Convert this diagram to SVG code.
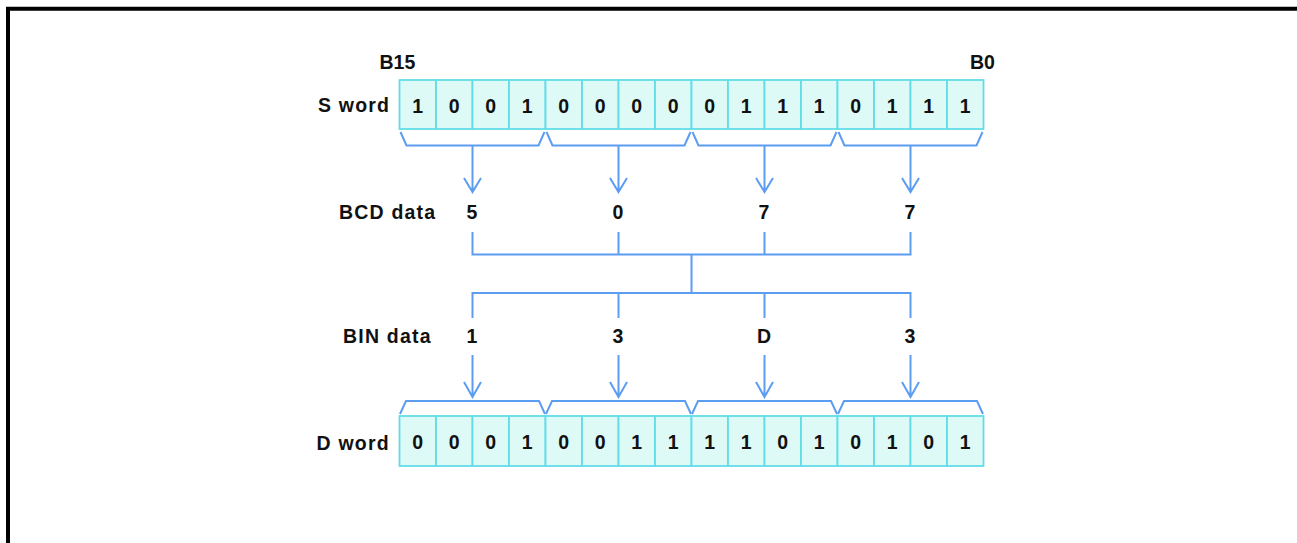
<svg xmlns="http://www.w3.org/2000/svg" width="1297" height="543" viewBox="0 0 1297 543">
<style>
.cell{fill:#defaf7;stroke:#62dde8;stroke-width:1.8}
.t{font-family:"Liberation Sans",Arial,sans-serif;font-weight:bold;font-size:19.5px;fill:#111}
.lab{letter-spacing:1.2px}
.d{text-anchor:middle}
.ln{fill:none;stroke:#5c9df2;stroke-width:2}
</style>
<rect width="1297" height="543" fill="#fff"/>
<path d="M8,543 L8,8.7 L1297,8.7" fill="none" stroke="#000" stroke-width="4"/>
<g id="labels">
<text class="t" x="379.5" y="69">B15</text>
<text class="t" x="970" y="69">B0</text>
<text class="t lab" x="318" y="112">S word</text>
<text class="t lab" x="339" y="218.5">BCD data</text>
<text class="t lab" x="343" y="343">BIN data</text>
<text class="t lab" x="316.5" y="449.5">D word</text>
</g>
<g id="s-word">
<rect class="cell" x="399.5" y="80" width="36.5" height="49"/>
<rect class="cell" x="436" y="80" width="36.5" height="49"/>
<rect class="cell" x="472.5" y="80" width="36.5" height="49"/>
<rect class="cell" x="509" y="80" width="36.5" height="49"/>
<rect class="cell" x="545.5" y="80" width="36.5" height="49"/>
<rect class="cell" x="582" y="80" width="36.5" height="49"/>
<rect class="cell" x="618.5" y="80" width="36.5" height="49"/>
<rect class="cell" x="655" y="80" width="36.5" height="49"/>
<rect class="cell" x="691.5" y="80" width="36.5" height="49"/>
<rect class="cell" x="728" y="80" width="36.5" height="49"/>
<rect class="cell" x="764.5" y="80" width="36.5" height="49"/>
<rect class="cell" x="801" y="80" width="36.5" height="49"/>
<rect class="cell" x="837.5" y="80" width="36.5" height="49"/>
<rect class="cell" x="874" y="80" width="36.5" height="49"/>
<rect class="cell" x="910.5" y="80" width="36.5" height="49"/>
<rect class="cell" x="947" y="80" width="36.5" height="49"/>
<text class="t d" x="417.75" y="112.5">1</text>
<text class="t d" x="454.25" y="112.5">0</text>
<text class="t d" x="490.75" y="112.5">0</text>
<text class="t d" x="527.25" y="112.5">1</text>
<text class="t d" x="563.75" y="112.5">0</text>
<text class="t d" x="600.25" y="112.5">0</text>
<text class="t d" x="636.75" y="112.5">0</text>
<text class="t d" x="673.25" y="112.5">0</text>
<text class="t d" x="709.75" y="112.5">0</text>
<text class="t d" x="746.25" y="112.5">1</text>
<text class="t d" x="782.75" y="112.5">1</text>
<text class="t d" x="819.25" y="112.5">1</text>
<text class="t d" x="855.75" y="112.5">0</text>
<text class="t d" x="892.25" y="112.5">1</text>
<text class="t d" x="928.75" y="112.5">1</text>
<text class="t d" x="965.25" y="112.5">1</text>
</g>
<g id="bcd-data">
<text class="t d" x="472" y="218.5">5</text>
<text class="t d" x="618" y="218.5">0</text>
<text class="t d" x="764" y="218.5">7</text>
<text class="t d" x="910" y="218.5">7</text>
</g>
<g id="bin-data">
<text class="t d" x="472" y="343">1</text>
<text class="t d" x="618" y="343">3</text>
<text class="t d" x="764" y="343">D</text>
<text class="t d" x="910" y="343">3</text>
</g>
<g id="d-word">
<rect class="cell" x="399.5" y="416" width="36.5" height="50"/>
<rect class="cell" x="436" y="416" width="36.5" height="50"/>
<rect class="cell" x="472.5" y="416" width="36.5" height="50"/>
<rect class="cell" x="509" y="416" width="36.5" height="50"/>
<rect class="cell" x="545.5" y="416" width="36.5" height="50"/>
<rect class="cell" x="582" y="416" width="36.5" height="50"/>
<rect class="cell" x="618.5" y="416" width="36.5" height="50"/>
<rect class="cell" x="655" y="416" width="36.5" height="50"/>
<rect class="cell" x="691.5" y="416" width="36.5" height="50"/>
<rect class="cell" x="728" y="416" width="36.5" height="50"/>
<rect class="cell" x="764.5" y="416" width="36.5" height="50"/>
<rect class="cell" x="801" y="416" width="36.5" height="50"/>
<rect class="cell" x="837.5" y="416" width="36.5" height="50"/>
<rect class="cell" x="874" y="416" width="36.5" height="50"/>
<rect class="cell" x="910.5" y="416" width="36.5" height="50"/>
<rect class="cell" x="947" y="416" width="36.5" height="50"/>
<text class="t d" x="417.75" y="449">0</text>
<text class="t d" x="454.25" y="449">0</text>
<text class="t d" x="490.75" y="449">0</text>
<text class="t d" x="527.25" y="449">1</text>
<text class="t d" x="563.75" y="449">0</text>
<text class="t d" x="600.25" y="449">0</text>
<text class="t d" x="636.75" y="449">1</text>
<text class="t d" x="673.25" y="449">1</text>
<text class="t d" x="709.75" y="449">1</text>
<text class="t d" x="746.25" y="449">1</text>
<text class="t d" x="782.75" y="449">0</text>
<text class="t d" x="819.25" y="449">1</text>
<text class="t d" x="855.75" y="449">0</text>
<text class="t d" x="892.25" y="449">1</text>
<text class="t d" x="928.75" y="449">0</text>
<text class="t d" x="965.25" y="449">1</text>
</g>
<g id="connectors" class="ln">
<path d="M400.5,132 L406.5,145.5 L538.5,145.5 L544.5,132"/>
<path d="M546.5,132 L552.5,145.5 L684.5,145.5 L690.5,132"/>
<path d="M692.5,132 L698.5,145.5 L830.5,145.5 L836.5,132"/>
<path d="M838.5,132 L844.5,145.5 L976.5,145.5 L982.5,132"/>
<path d="M472.5,145.5 V192 M464,178 L472.5,192 L481,178"/>
<path d="M618.5,145.5 V192 M610,178 L618.5,192 L627,178"/>
<path d="M764.5,145.5 V192 M756,178 L764.5,192 L773,178"/>
<path d="M910.5,145.5 V192 M902,178 L910.5,192 L919,178"/>
<path d="M472.5,232 V254.5 H910.5 V232 M618.5,232 V254.5 M764.5,232 V254.5"/>
<path d="M691.5,254.5 V293"/>
<path d="M472.5,318 V293 H910.5 V318 M618.5,318 V293 M764.5,318 V293"/>
<path d="M472.5,355 V397 M464,382 L472.5,397 L481,382"/>
<path d="M618.5,355 V397 M610,382 L618.5,397 L627,382"/>
<path d="M764.5,355 V397 M756,382 L764.5,397 L773,382"/>
<path d="M910.5,355 V397 M902,382 L910.5,397 L919,382"/>
<path d="M400,414 L406,401 L539,401 L545,414"/>
<path d="M546,414 L552,401 L685,401 L691,414"/>
<path d="M692,414 L698,401 L831,401 L837,414"/>
<path d="M838,414 L844,401 L977,401 L983,414"/>
</g>
</svg>
